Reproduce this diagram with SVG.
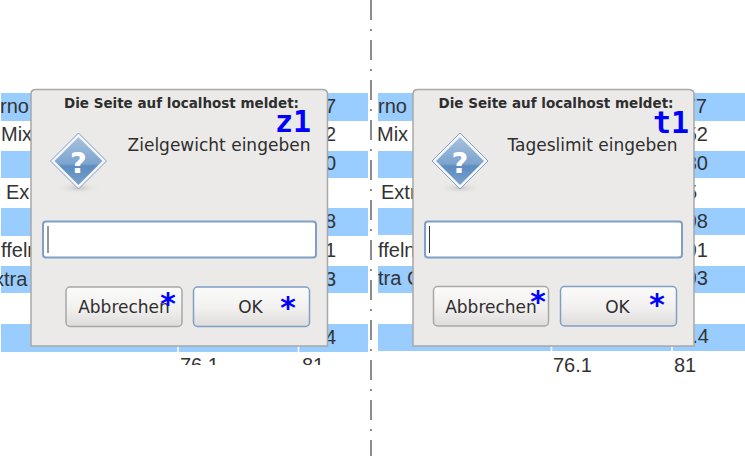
<svg xmlns="http://www.w3.org/2000/svg" width="745" height="456" viewBox="0 0 745 456">
<defs>
<linearGradient id="btn" x1="0" y1="0" x2="0" y2="1"><stop offset="0" stop-color="#fbfbfa"/><stop offset="0.55" stop-color="#f1f0ef"/><stop offset="1" stop-color="#dddcda"/></linearGradient>
<linearGradient id="dia" x1="0" y1="0" x2="0" y2="1"><stop offset="0" stop-color="#a9c4e0"/><stop offset="0.55" stop-color="#7da4cf"/><stop offset="0.6" stop-color="#5c8cc0"/><stop offset="1" stop-color="#7ea3cc"/></linearGradient>
<radialGradient id="shadow"><stop offset="0" stop-color="#bdbcba" stop-opacity="0.8"/><stop offset="1" stop-color="#ebeae9" stop-opacity="0"/></radialGradient>
<g id="icon">
<ellipse cx="0" cy="27" rx="22" ry="6" fill="url(#shadow)"/>
<path d="M0,-26 L26,0 L0,26 L-26,0 Z" fill="url(#dia)" stroke="#f4f6f9" stroke-width="3" stroke-linejoin="round"/>
<path d="M0,-28 L28,0 L0,28 L-28,0 Z" fill="none" stroke="#7f9fc4" stroke-width="1" stroke-linejoin="round"/>
</g>
</defs>
<style>
text{font-family:"DejaVu Sans",sans-serif;fill:#2e2e2e}
.bg{font-family:"Liberation Sans",Arial,sans-serif;font-size:20px;fill:#333}
.end{text-anchor:end}
.band{fill:#99ccff}
.dlg{fill:#ebeae9;stroke:#a8a8a6;stroke-width:1.5}
.title{font-size:13.5px;font-weight:bold;text-anchor:middle}
.msg{font-size:17px;text-anchor:middle}
.inp{fill:#fff;stroke:#7f9fc6;stroke-width:2}
.cancel{fill:url(#btn);stroke:#a9a8a6;stroke-width:1.5}
.ok{fill:url(#btn);stroke:#7f9fc6;stroke-width:1.5}
.btxt{font-size:17px;text-anchor:middle}
.tag{font-family:"DejaVu Sans Mono",monospace;font-size:30px;font-weight:bold;fill:#0000ff}
.q{font-family:"DejaVu Sans",sans-serif;font-size:29px;font-weight:bold;fill:#fff;text-anchor:middle}
.tick{stroke:#fff;stroke-width:1.5}
</style>

<g id="divider"><line x1="371" y1="0" x2="371" y2="456" stroke="#666" stroke-width="1.5" stroke-dasharray="20 9 2 9"/></g>

<g id="left-background">
<rect class="band" x="1" y="93" width="367" height="28"/>
<rect class="band" x="1" y="151" width="367" height="27"/>
<rect class="band" x="1" y="208" width="367" height="28"/>
<rect class="band" x="1" y="266" width="367" height="27"/>
<rect class="band" x="1" y="324" width="367" height="28"/>
<line class="tick" x1="178" y1="346" x2="178" y2="352"/>
<line class="tick" x1="298.500" y1="346" x2="298.500" y2="352"/>
<text class="bg" x="0" y="113">rno</text>
<text class="bg" x="1" y="141">Mix</text>
<text class="bg" x="6" y="199">Ex</text>
<text class="bg" x="1" y="257">ffeln</text>
<text class="bg" x="-6" y="286">xtra</text>
<text class="bg end" x="336" y="113">7</text>
<text class="bg end" x="336" y="141">2</text>
<text class="bg end" x="336" y="170">0</text>
<text class="bg end" x="336" y="228">8</text>
<text class="bg end" x="336" y="257">1</text>
<text class="bg end" x="336" y="286">3</text>
<text class="bg end" x="336" y="344">4</text>
<text class="bg" x="180" y="372">76.1</text>
<text class="bg" x="302" y="372">81</text>
<rect x="0" y="365" width="368" height="12" fill="#fff"/>
</g>

<g id="right-background">
<rect class="band" x="378" y="93" width="367" height="28"/>
<rect class="band" x="378" y="151" width="367" height="27"/>
<rect class="band" x="378" y="208" width="367" height="27"/>
<rect class="band" x="378" y="266" width="367" height="27"/>
<rect class="band" x="378" y="324" width="367" height="27"/>
<line class="tick" x1="551.500" y1="346" x2="551.500" y2="352"/>
<line class="tick" x1="672" y1="346" x2="672" y2="352"/>
<text class="bg" x="378" y="113">rno</text>
<text class="bg" x="377" y="141">Mix</text>
<text class="bg" x="381" y="199">Extr</text>
<text class="bg" x="378" y="257">ffeln</text>
<text class="bg" x="378" y="285">tra C</text>
<text class="bg end" x="707" y="113">77</text>
<text class="bg end" x="708" y="141">52</text>
<text class="bg end" x="708" y="170">30</text>
<text class="bg end" x="697" y="199">5</text>
<text class="bg end" x="708" y="228">98</text>
<text class="bg end" x="708" y="257">91</text>
<text class="bg end" x="708" y="285">93</text>
<text class="bg end" x="709" y="343">.4</text>
<text class="bg" x="553" y="372">76.1</text>
<text class="bg" x="674" y="372">81</text>
</g>

<g id="dialog-z1">
<path class="dlg" d="M31,346 V94 Q31,89.500 36,89.500 H322 Q327.500,89.500 327.500,94 V346 Z"/>
<text class="title" x="181.500" y="108">Die Seite auf localhost meldet:</text>
<use href="#icon" x="78.500" y="161"/>
<text class="q" x="78.500" y="173">?</text>
<text class="msg" x="219" y="151">Zielgewicht eingeben</text>
<rect class="inp" x="43" y="221.500" width="273" height="36" rx="3"/>
<line x1="48" y1="226" x2="48" y2="253" stroke="#333" stroke-width="1"/>
<rect class="cancel" x="66" y="287" width="116" height="39.500" rx="4"/>
<text class="btxt" x="124" y="313">Abbrechen</text>
<rect class="ok" x="193.500" y="287" width="116" height="39.500" rx="4"/>
<text class="btxt" x="250.500" y="313">OK</text>
<text class="tag" x="275" y="132">z1</text>
<text class="tag" x="159" y="314">*</text>
<text class="tag" x="279" y="318">*</text>
</g>

<g id="dialog-t1">
<path class="dlg" d="M413,346 V94 Q413,89.500 418,89.500 H688 Q694,89.500 694,94 V346 Z"/>
<text class="title" x="556" y="108">Die Seite auf localhost meldet:</text>
<use href="#icon" x="460" y="161"/>
<text class="q" x="460" y="173">?</text>
<text class="msg" x="592.500" y="151">Tageslimit eingeben</text>
<rect class="inp" x="425" y="221.500" width="257" height="36" rx="3"/>
<line x1="429.500" y1="226" x2="429.500" y2="253" stroke="#333" stroke-width="1"/>
<rect class="cancel" x="433.500" y="286.500" width="115" height="39.500" rx="4"/>
<text class="btxt" x="491" y="313">Abbrechen</text>
<rect class="ok" x="560.500" y="286.500" width="116" height="39.500" rx="4"/>
<text class="btxt" x="617.500" y="313">OK</text>
<text class="tag" x="653" y="133">t1</text>
<text class="tag" x="529" y="312">*</text>
<text class="tag" x="648" y="315">*</text>
</g>
</svg>
